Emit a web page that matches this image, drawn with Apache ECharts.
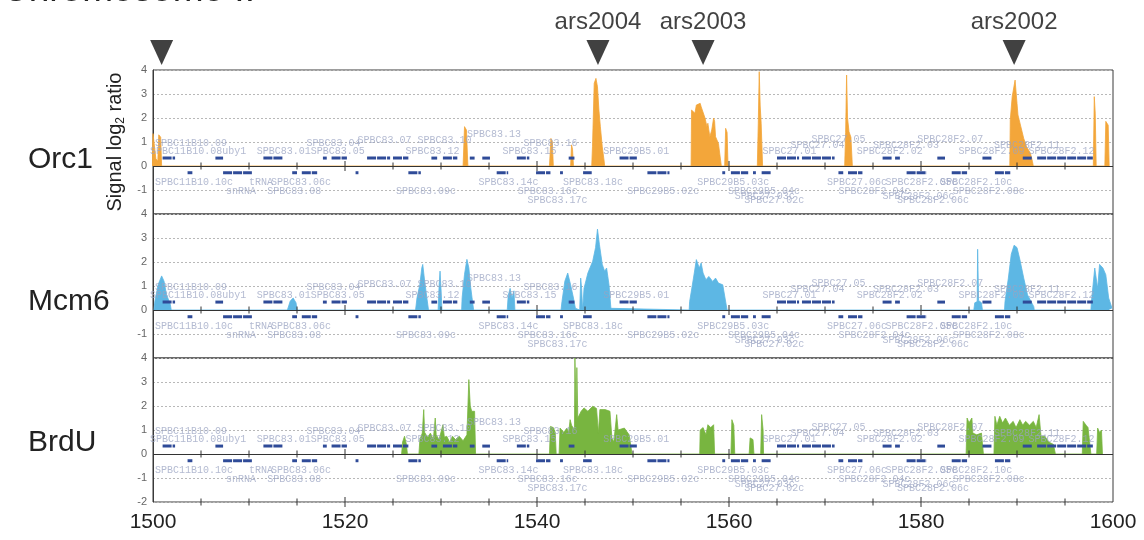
<!DOCTYPE html>
<html>
<head>
<meta charset="utf-8">
<script src="https://cdn.jsdelivr.net/npm/echarts@6/dist/echarts.min.js"></script>
<style>html,body{margin:0;padding:0;background:#fff;}#c{width:1144px;height:540px;}</style>
</head>
<body>
<div id="c"></div>
<script>
// ---------------- data ----------------
const panelNames = ['Orc1', 'Mcm6', 'BrdU'];
const xTickLabels = [1500, 1520, 1540, 1560, 1580, 1600];
const tickMarks = [1505,1510,1515,1520,1525,1530,1535,1540,1545,1550,1555,1560,1565,1570,1575,1580,1585,1590,1595];
const yTicks = [-2, -1, 0, 1, 2, 3, 4];

const arsPos = [1500.9, 1546.35, 1557.3, 1589.7];
const arsNames = ['', 'ars2004', 'ars2003', 'ars2002'];

const orc1 = [
 [1499.9,0],[1500.0,1.35],[1500.2,1.3],[1500.3,0.3],[1500.5,0.2],[1500.6,1.3],[1500.8,1.2],[1500.9,0],
 [1532.3,0],[1532.45,1.64],[1532.65,1.5],[1532.8,0],
 [1541.3,0],[1541.45,1.15],[1541.6,1.0],[1541.7,0],
 [1543.5,0],[1543.6,0.88],[1543.7,0.7],[1543.8,0],
 [1545.7,0],[1545.78,0.82],[1545.96,3.45],[1546.14,3.65],[1546.3,3.3],[1546.45,2.33],[1546.6,1.64],[1546.8,0.8],[1546.98,0.25],[1547.05,0],
 [1556.05,0],[1556.1,2.33],[1556.3,2.4],[1556.45,2.2],[1556.6,2.54],[1556.8,2.47],[1557.0,2.61],[1557.1,2.47],[1557.3,2.54],[1557.5,2.0],[1557.7,1.64],[1557.8,1.78],[1558.0,1.22],[1558.2,1.5],[1558.4,2.0],[1558.5,1.86],[1558.6,1.22],[1558.9,0.94],[1559.1,1.0],[1559.2,0],
 [1559.55,0],[1559.65,1.57],[1559.8,1.4],[1559.9,0],
 [1562.95,0],[1563.05,1.78],[1563.15,3.93],[1563.25,2.5],[1563.35,1.78],[1563.5,0],
 [1572.05,0],[1572.15,1.4],[1572.25,3.79],[1572.35,2.0],[1572.5,1.43],[1572.7,1.2],[1572.85,0],
 [1589.25,0],[1589.3,1.92],[1589.5,2.89],[1589.8,3.58],[1590.0,2.61],[1590.1,2.13],[1590.4,1.64],[1590.7,1.15],[1591.0,0.8],[1591.4,0.53],[1591.6,0.2],[1591.7,0],
 [1597.95,0],[1598.05,2.89],[1598.15,2.2],[1598.25,0],
 [1599.15,0],[1599.25,1.86],[1599.5,1.7],[1599.6,0]
];

const mcm6 = [
 [1500.1,0],[1500.2,0.38],[1500.55,1.07],[1500.9,1.42],[1501.15,1.2],[1501.4,0.65],[1501.8,0.24],[1501.9,0],
 [1514.0,0],[1514.3,0.38],[1514.6,0.5],[1514.9,0.3],[1515.0,0],
 [1527.35,0],[1527.5,0.51],[1527.8,1.07],[1528.0,1.76],[1528.1,1.9],[1528.3,1.2],[1528.55,0.44],[1528.7,0],
 [1529.7,0],[1529.8,1.0],[1529.9,1.62],[1530.0,0.9],[1530.1,0],
 [1532.15,0],[1532.2,0.51],[1532.45,1.49],[1532.7,2.11],[1532.9,1.76],[1533.1,0.93],[1533.3,0.3],[1533.4,0],
 [1536.9,0],[1537.0,0.6],[1537.2,0.9],[1537.4,0.5],[1537.6,0.8],[1537.7,0],
 [1542.5,0],[1542.6,0.35],[1542.9,1.2],[1543.2,1.54],[1543.5,1.05],[1543.8,0.5],[1544.0,0.07],
 [1544.45,0],[1544.55,1.33],[1544.65,0.9],[1544.75,0],
 [1544.85,0],[1544.9,0.91],[1545.3,1.54],[1545.8,2.03],[1546.1,2.6],[1546.3,3.37],[1546.5,2.74],[1546.8,1.9],[1547.05,1.61],[1547.25,1.75],[1547.5,1.05],[1547.7,0.07],[1547.75,0],
 [1555.85,0],[1555.9,0.35],[1556.3,1.33],[1556.6,2.1],[1556.9,1.75],[1557.1,1.96],[1557.3,1.54],[1557.6,1.26],[1557.9,1.4],[1558.3,1.19],[1558.6,1.33],[1558.9,1.12],[1559.35,1.05],[1559.8,0],
 [1585.5,0],[1585.6,0.3],[1585.85,0.35],[1585.9,2.53],[1586.0,0.4],[1586.3,0.3],[1586.4,0],
 [1588.7,0],[1588.75,0.35],[1589.1,1.33],[1589.4,2.32],[1589.7,2.7],[1590.0,2.6],[1590.3,2.1],[1590.7,1.33],[1591.1,0.63],[1591.75,0.14],[1591.8,0],
 [1597.7,0],[1597.75,0.35],[1598.1,1.75],[1598.4,0.9],[1598.6,1.9],[1598.95,1.75],[1599.25,1.47],[1599.55,0.5],[1599.9,0.07]
];

const brdu = [
 [1525.9,0],[1526.0,0.5],[1526.2,0.74],[1526.4,0.4],[1526.5,0],
 [1527.7,0],[1527.8,0.6],[1528.05,0.87],[1528.2,1.85],[1528.3,0.9],[1528.6,0.7],[1528.9,0.87],[1529.2,0.6],[1529.4,1.5],[1529.5,0.8],[1529.8,0.6],[1530.2,1.22],[1530.35,0.7],[1530.6,0.74],[1530.9,0.5],[1531.2,0.74],[1531.5,0.6],[1531.9,0.74],[1532.3,0.55],[1532.7,0.8],
 [1532.9,3.1],[1533.05,2.0],[1533.2,1.78],[1533.5,1.78],[1533.6,0],
 [1541.3,0],[1541.4,1.15],[1541.7,1.1],[1541.9,0.9],[1542.0,0],
 [1542.3,0],[1542.4,1.08],[1542.8,0.9],[1543.1,1.08],[1543.3,0.9],[1543.45,1.43],[1543.6,1.2],[1543.9,1.0],
 [1543.95,4.0],[1544.05,4.0],[1544.1,1.3],[1544.15,3.6],[1544.25,1.5],
 [1544.6,1.78],[1544.9,1.92],[1545.3,1.78],[1545.8,1.99],[1546.2,1.9],[1546.4,0.87],[1546.55,1.85],[1547.1,1.85],[1547.6,1.78],[1547.8,0.67],[1548.0,0.5],
 [1548.3,1.64],[1548.45,1.0],[1548.6,0.94],[1549.1,1.08],[1549.6,0.8],[1549.9,0],
 [1556.95,0],[1557.0,1.0],[1557.3,1.1],[1557.6,0.8],[1557.8,1.22],[1558.1,1.1],[1558.4,1.22],[1558.5,0],
 [1560.2,0],[1560.3,1.43],[1560.5,1.2],[1560.6,0],
 [1562.1,0],[1562.2,0.67],[1562.5,0.6],[1562.6,0],
 [1563.3,0],[1563.4,1.64],[1563.55,1.0],[1563.6,0],
 [1584.7,0],[1584.8,1.5],[1585.0,1.3],[1585.3,1.5],[1585.4,0.87],[1585.8,0.8],[1586.3,0.87],[1586.5,0],
 [1587.6,0],[1587.7,1.57],[1587.9,1.2],[1588.2,1.57],[1588.5,1.29],[1588.8,1.5],[1589.2,1.2],[1589.6,1.36],[1589.9,1.1],[1590.3,1.43],[1590.6,1.2],[1590.9,1.36],[1591.3,1.2],[1591.7,1.36],[1592.0,1.1],[1592.3,1.64],[1592.5,0.74],[1592.9,0.74],[1593.3,0.5],[1593.8,0.4],[1594.0,0],
 [1596.8,0],[1596.9,1.36],[1597.2,1.2],[1597.4,1.1],[1597.7,0],
 [1598.3,0],[1598.4,1.08],[1598.6,0.9],[1598.8,1.0],[1598.9,0]
];

// gene annotation (kb start, kb end)
const genesPlus = [
 [1501.0,1502.3],[1506.5,1507.3],[1511.5,1513.5],[1517.7,1518.1],[1518.6,1520.2],[1522.3,1524.7],[1525.0,1526.6],
 [1529.0,1529.6],[1530.2,1531.7],[1533.0,1533.5],[1534.3,1535.1],[1537.9,1539.2],[1543.3,1543.9],[1548.6,1550.4],
 [1565.0,1567.3],[1567.6,1571.0],[1576.0,1577.0],[1577.3,1577.8],[1581.7,1582.5],[1586.4,1587.4],[1590.6,1591.6],[1592.1,1597.9]
];
const genesMinus = [
 [1503.6,1504.1],[1507.3,1510.3],[1514.5,1515.0],[1515.5,1517.1],[1521.1,1521.4],[1526.6,1527.9],[1535.8,1537.0],
 [1539.9,1541.4],[1542.4,1542.7],[1544.8,1545.7],[1551.5,1553.8],[1559.3,1559.6],[1560.2,1562.0],[1562.5,1562.8],
 [1563.4,1564.4],[1571.4,1571.9],[1572.4,1573.9],[1578.5,1580.6],[1583.2,1584.8],[1587.7,1589.3]
];
// gene names: [kb, row, name]
const geneNames = [
 [1500.2, 0.95, 'SPBC11B10.09'],
 [1499.7, 0.6, 'SPBC11B10.08uby1'],
 [1510.8, 0.6, 'SPBC83.01SPBC83.05'],
 [1516.0, 0.95, 'SPBC83.04'],
 [1521.3, 1.05, 'SPBC83.07 SPBC83.10'],
 [1526.3, 0.6, 'SPBC83.12'],
 [1532.7, 1.3, 'SPBC83.13'],
 [1536.4, 0.6, 'SPBC83.15'],
 [1538.6, 0.95, 'SPBC83.16'],
 [1546.9, 0.6, 'SPBC29B5.01'],
 [1563.5, 0.6, 'SPBC27.01'],
 [1566.4, 0.85, 'SPBC27.04'],
 [1568.6, 1.12, 'SPBC27.05'],
 [1573.3, 0.6, 'SPBC28F2.02'],
 [1575.0, 0.88, 'SPBC28F2.03'],
 [1579.6, 1.12, 'SPBC28F2.07'],
 [1583.9, 0.6, 'SPBC28F2.09'],
 [1587.6, 0.88, 'SPBC28F2.11'],
 [1591.2, 0.6, 'SPBC28F2.12'],
 [1500.2, -0.68, 'SPBC11B10.10c'],
 [1510.0, -0.68, 'tRNA'],
 [1512.3, -0.68, 'SPBC83.06c'],
 [1507.6, -1.05, 'snRNA'],
 [1511.9, -1.05, 'SPBC83.08'],
 [1525.3, -1.05, 'SPBC83.09c'],
 [1533.9, -0.68, 'SPBC83.14c'],
 [1538.0, -1.05, 'SPBC83.16c'],
 [1539.0, -1.42, 'SPBC83.17c'],
 [1542.7, -0.68, 'SPBC83.18c'],
 [1549.4, -1.05, 'SPBC29B5.02c'],
 [1556.7, -0.68, 'SPBC29B5.03c'],
 [1559.9, -1.05, 'SPBC29B5.04c'],
 [1560.6, -1.25, 'SPBC27.03c'],
 [1561.6, -1.45, 'SPBC27.02c'],
 [1570.2, -0.68, 'SPBC27.06c'],
 [1571.4, -1.05, 'SPBC28F2.04c'],
 [1576.3, -0.68, 'SPBC28F2.05c'],
 [1576.0, -1.25, 'SPBC28F2.06c'],
 [1577.5, -1.45, 'SPBC28F2.06c'],
 [1582.0, -0.68, 'SPBC28F2.10c'],
 [1583.3, -1.05, 'SPBC28F2.08c']
];

// ---------------- chart ----------------
const colors = ['#f3a63a', '#5db7e4', '#78b540'];
const profiles = [orc1, mcm6, brdu];
const gridTops = [70, 214, 358];
const PLUS_Y = 0.33, MINUS_Y = -0.28;

const chart = echarts.init(document.getElementById('c'), null, {renderer: 'canvas'});

const grids = [], xAxes = [], yAxes = [], series = [];
for (let i = 0; i < 3; i++) {
  grids.push({left: 153, right: 31, top: gridTops[i], height: 144, show: true,
    borderColor: '#3a3a3a', borderWidth: 1, backgroundColor: 'transparent'});
  xAxes.push({gridIndex: i, type: 'value', min: 1500, max: 1600, interval: 20,
    axisLine: {show: false}, axisTick: {show: false}, splitLine: {show: false},
    axisLabel: {show: i === 2, fontSize: 21, color: '#222', margin: 10, fontFamily: 'Liberation Sans',
      formatter: v => xTickLabels.indexOf(v) >= 0 ? String(v) : ''}});
  yAxes.push({gridIndex: i, type: 'value', min: -2, max: 4, interval: 1,
    name: i === 0 ? 'Signal log{sub|2} ratio' : '',
    nameLocation: 'middle', nameRotate: 90, nameGap: 16,
    nameTextStyle: {fontSize: 20, color: '#222', fontFamily: 'Liberation Sans', lineHeight: 22,
      rich: {sub: {fontSize: 12, lineHeight: 8, verticalAlign: 'bottom', color: '#222', fontFamily: 'Liberation Sans'}}},
    axisLine: {show: true, onZero: false, lineStyle: {color: '#3a3a3a', width: 1}},
    axisTick: {show: false},
    axisLabel: {fontSize: 11, color: '#666', margin: 6, fontFamily: 'Liberation Sans',
      formatter: v => (i < 2 && v === yTicks[0]) ? '' : String(v)},
    splitLine: {show: true, lineStyle: {color: '#b8b8b8', type: [2, 2], width: 1}}});

  series.push({type: 'line', xAxisIndex: i, yAxisIndex: i, data: profiles[i],
    showSymbol: false, symbol: 'none', z: 2, clip: true,
    lineStyle: {color: colors[i], width: 0.8},
    areaStyle: {color: colors[i], opacity: 1, origin: 0}});

  series.push({type: 'custom', xAxisIndex: i, yAxisIndex: i, z: 3, silent: true,
    data: geneNames.map(g => [g[0], g[1]]),
    renderItem: (params, api) => {
      const p = api.coord([api.value(0), api.value(1)]);
      return {type: 'text', x: p[0], y: p[1], style: {text: geneNames[params.dataIndex][2],
        fill: '#9aa3c2', opacity: 0.75, font: '10px "Liberation Mono"', align: 'left', verticalAlign: 'middle'}};
    }});

  const genes = genesPlus.map(g => [g[0], g[1], PLUS_Y]).concat(genesMinus.map(g => [g[0], g[1], MINUS_Y]));
  series.push({type: 'custom', xAxisIndex: i, yAxisIndex: i, z: 4, silent: true,
    data: genes, encode: {x: [0, 1], y: 2},
    renderItem: (params, api) => {
      const a = api.coord([api.value(0), api.value(2)]);
      const b = api.coord([api.value(1), api.value(2)]);
      return {type: 'line', shape: {x1: a[0], y1: a[1], x2: b[0], y2: b[1]},
        style: {stroke: '#2f4b98', lineWidth: 3, lineDash: [9, 1]}};
    }});

  const tickData = tickMarks.map(t => [t, 0]);
  if (i === 2) tickMarks.forEach(t => tickData.push([t, yTicks[0]]));
  series.push({type: 'custom', xAxisIndex: i, yAxisIndex: i, z: 6, silent: true,
    data: tickData,
    renderItem: (params, api) => {
      const x = api.value(0);
      const p = api.coord([x, api.value(1)]);
      const len = xTickLabels.indexOf(x) >= 0 ? 5 : 3.5;
      return {type: 'line', shape: {x1: p[0], y1: p[1] - len, x2: p[0], y2: p[1] + len},
        style: {stroke: '#333', lineWidth: 1}};
    },
    markLine: {silent: true, symbol: 'none', label: {show: false}, animation: false,
      lineStyle: {color: '#333', width: 1.2, type: 'solid'}, data: [{yAxis: 0}]}});
}

// origin markers grid
grids.push({left: 153, right: 31, top: 0, height: 70, show: false});
xAxes.push({gridIndex: 3, type: 'value', min: 1500, max: 1600, show: false});
yAxes.push({gridIndex: 3, type: 'value', min: 0, max: 1, show: false});
series.push({type: 'scatter', xAxisIndex: 3, yAxisIndex: 3, z: 10, clip: false,
  symbol: 'triangle', symbolRotate: 180, symbolSize: [23, 25],
  itemStyle: {color: '#111'},
  label: {show: true, position: 'top', distance: 6, formatter: '{b}', fontSize: 24, color: '#111', fontFamily: 'Liberation Sans'},
  data: arsPos.map((x, k) => ({name: arsNames[k], value: [x, 0.25]}))});

const graphic = [
  {type: 'text', left: 2, top: -28, style: {text: 'Chromosome II', font: '37px "Liberation Sans"', fill: '#222'}},
];
const labelY = [160, 302, 443];
panelNames.forEach((n, k) => graphic.push({type: 'text', x: 28, y: labelY[k],
  style: {text: n, font: '30px "Liberation Sans"', fill: '#222', verticalAlign: 'middle', align: 'left'}}));

chart.setOption({
  animation: false,
  backgroundColor: '#ffffff',
  grid: grids, xAxis: xAxes, yAxis: yAxes, series: series, graphic: graphic
});
</script>
</body>
</html>
